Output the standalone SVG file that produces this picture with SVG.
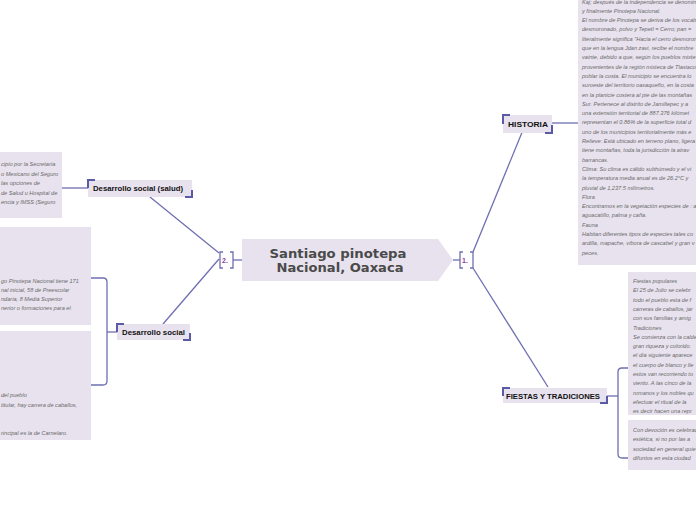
<svg xmlns="http://www.w3.org/2000/svg" width="696" height="520" viewBox="0 0 696 520">
<style>
.box{fill:#e8e2ee}
.node{fill:#e8e2ee}
.br{fill:none;stroke:#5b5aa6;stroke-width:2}
.con{fill:none;stroke:#6f6fb3;stroke-width:1.3}
.lbl{font-family:"Liberation Sans",Arial,sans-serif;font-weight:bold;font-size:8px;fill:#111}
.cap{font-family:"Liberation Sans",Arial,sans-serif;font-weight:bold;font-size:8px;fill:#111}
.t{font-family:"Liberation Sans",Arial,sans-serif;font-style:italic;font-size:5.6px;fill:#6a6a6a}
.num{font-family:"Liberation Sans",Arial,sans-serif;font-weight:bold;font-size:7px;fill:#8a3f9a}
.main{font-family:"DejaVu Sans",Verdana,sans-serif;font-weight:bold;font-size:13px;fill:#4a4a4a}
</style>
<rect width="696" height="520" fill="#ffffff"/>

<g id="connectors">
  <path class="con" d="M233 260 H242"/>
  <path class="con" d="M453 260 H460"/>
  <path class="con" d="M219 253 L150 197"/>
  <path class="con" d="M219 259 L163 324"/>
  <path class="con" d="M473 252 L523 130"/>
  <path class="con" d="M473 268 L548 387"/>
  <path class="con" d="M88 188 H62"/>
  <path class="con" d="M117 332 H107"/>
  <path class="con" d="M91 278 H103 Q107 278 107 282 V381 Q107 385 103 385 H91"/>
  <path class="con" d="M552 123 H578"/>
  <path class="con" d="M607 396 H618"/>
  <path class="con" d="M628 368 H622 Q618 368 618 372 V454 Q618 458 622 458 H628"/>
</g>

<g id="center">
  <polygon class="node" points="242,239 438,239 453,260 438,281 242,281"/>
  <text class="main" x="338" y="258" text-anchor="middle" textLength="137" lengthAdjust="spacingAndGlyphs">Santiago pinotepa</text>
  <text class="main" x="340" y="272" text-anchor="middle" textLength="127" lengthAdjust="spacingAndGlyphs">Nacional, Oaxaca</text>
</g>

<g id="num2">
  <path class="con" d="M223 252 H220 V268 H223 M230 252 H233 V268 H230" stroke-width="1"/>
  <text class="num" x="222" y="263">2.</text>
</g>
<g id="num1">
  <path class="con" d="M463 252 H460 V268 H463 M470 252 H473 V268 H470" stroke-width="1"/>
  <text class="num" x="462" y="263">1.</text>
</g>

<g id="node-salud">
  <rect class="node" x="88" y="180" width="104" height="17"/>
  <path class="br" d="M88 188 V180 H95 M192 190 V197 H185"/>
  <text class="lbl" x="93" y="191" textLength="90" lengthAdjust="spacingAndGlyphs">Desarrollo social (salud)</text>
</g>

<g id="node-social">
  <rect class="node" x="117" y="324" width="73" height="16"/>
  <path class="br" d="M117 332 V324 H124 M190 333 V340 H183"/>
  <text class="lbl" x="122" y="335" textLength="63" lengthAdjust="spacingAndGlyphs">Desarrollo social</text>
</g>

<g id="node-historia">
  <rect class="node" x="503" y="115" width="49" height="18"/>
  <path class="br" d="M503 124 V115 H510 M552 125 V133 H545"/>
  <text class="cap" x="508" y="127" textLength="40" lengthAdjust="spacingAndGlyphs">HISTORIA</text>
</g>

<g id="node-fiestas">
  <rect class="node" x="503" y="388" width="104" height="15"/>
  <path class="br" d="M503 396 V388 H510 M607 396 V403 H600"/>
  <text class="cap" x="506" y="399" textLength="94" lengthAdjust="spacingAndGlyphs">FIESTAS Y TRADICIONES</text>
</g>

<g id="text-salud">
  <rect class="box" x="0" y="152" width="62" height="66"/>
  <text class="t" x="1" y="166">cipio por la Secretaría</text>
  <text class="t" x="1" y="175.5">o Mexicano del Seguro</text>
  <text class="t" x="1" y="185">las opciones de</text>
  <text class="t" x="1" y="194.5">de Salud u Hospital de</text>
  <text class="t" x="1" y="204">encia y IMSS (Seguro</text>
</g>

<g id="text-social-1">
  <rect class="box" x="0" y="227" width="91" height="98"/>
  <text class="t" x="1" y="283">go Pinotepa Nacional tiene 171</text>
  <text class="t" x="1" y="292">nal inicial, 58 de Preescolar</text>
  <text class="t" x="1" y="301">ndaria, 8 Media Superior</text>
  <text class="t" x="1" y="310">nerior o formaciones para el</text>
</g>

<g id="text-social-2">
  <rect class="box" x="0" y="331" width="91" height="109"/>
  <text class="t" x="1" y="397">del pueblo</text>
  <text class="t" x="1" y="407">titular, hay carrera de caballos,</text>
  <text class="t" x="1" y="435">rincipal es la de Carnelaro.</text>
</g>

<g id="text-historia">
  <rect class="box" x="578" y="0" width="118" height="265"/>
  <text class="t" x="582" y="3.5">Kaj; después de la independencia se denomin</text>
  <text class="t" x="582" y="12.8">y finalmente Pinotepa Nacional.</text>
  <text class="t" x="582" y="22.1">El nombre de Pinotepa se deriva de los vocabl</text>
  <text class="t" x="582" y="31.4">desmoronado, polvo y Tepetl = Cerro; pan =</text>
  <text class="t" x="582" y="40.7">literalmente significa "Hacia el cerro desmoron</text>
  <text class="t" x="582" y="50">que en la lengua Jdan zavi, recibe el nombre</text>
  <text class="t" x="582" y="59.3">vainte, debido a que, según los pueblos mixte</text>
  <text class="t" x="582" y="68.6">provenientes de la región mixteca de Tlaxiaco</text>
  <text class="t" x="582" y="77.9">poblar la costa. El municipio se encuentra lo</text>
  <text class="t" x="582" y="87.2">suroeste del territorio oaxaqueño, en la costa</text>
  <text class="t" x="582" y="96.5">en la planicie costera al pie de las montañas</text>
  <text class="t" x="582" y="105.8">Sur. Pertenece al distrito de Jamiltepec y a</text>
  <text class="t" x="582" y="115.1">una extensión territorial de 887.376 kilómet</text>
  <text class="t" x="582" y="124.4">representan el 0.86% de la superficie total d</text>
  <text class="t" x="582" y="133.7">uno de los municipios territorialmente más e</text>
  <text class="t" x="582" y="143">Relieve: Está ubicado en terreno plano, ligera</text>
  <text class="t" x="582" y="152.3">tiene montañas, toda la jurisdicción la atrav</text>
  <text class="t" x="582" y="161.6">barrancas.</text>
  <text class="t" x="582" y="170.9">Clima: Su clima es cálido subhúmedo y el vi</text>
  <text class="t" x="582" y="180.2">la temperatura media anual es de 26.2°C y</text>
  <text class="t" x="582" y="189.5">pluvial de 1,237.5 milímetros.</text>
  <text class="t" x="582" y="198.8">Flora</text>
  <text class="t" x="582" y="208.1">Encontramos en la vegetación especies de : a</text>
  <text class="t" x="582" y="217.4">aguacatillo, palma y caña.</text>
  <text class="t" x="582" y="226.7">Fauna</text>
  <text class="t" x="582" y="236">Habitan diferentes tipos de especies tales co</text>
  <text class="t" x="582" y="245.3">ardilla, mapache, víbora de cascabel y gran v</text>
  <text class="t" x="582" y="254.6">peces.</text>
</g>

<g id="text-fiestas-1">
  <rect class="box" x="628" y="272" width="68" height="143"/>
  <text class="t" x="633" y="283">Fiestas populares</text>
  <text class="t" x="633" y="292.3">El 25 de Julio se celebr</text>
  <text class="t" x="633" y="301.6">todo el pueblo esta de f</text>
  <text class="t" x="633" y="310.9">carreras de caballos, jar</text>
  <text class="t" x="633" y="320.2">con sus familias y amig</text>
  <text class="t" x="633" y="329.5">Tradiciones</text>
  <text class="t" x="633" y="338.8">Se comienza con la calde</text>
  <text class="t" x="633" y="348.1">gran riqueza y colorido.</text>
  <text class="t" x="633" y="357.4">el día siguiente aparece</text>
  <text class="t" x="633" y="366.7">el cuerpo de blanco y lle</text>
  <text class="t" x="633" y="376">estos van recorriendo to</text>
  <text class="t" x="633" y="385.3">viento. A las cinco de la</text>
  <text class="t" x="633" y="394.6">romanos y los nobles qu</text>
  <text class="t" x="633" y="403.9">efectuar el ritual de la</text>
  <text class="t" x="633" y="413.2">es decir hacen una repr</text>
</g>

<g id="text-fiestas-2">
  <rect class="box" x="628" y="420" width="68" height="50"/>
  <text class="t" x="633" y="432">Con devoción es celebrad</text>
  <text class="t" x="633" y="441.3">estética, si no por las a</text>
  <text class="t" x="633" y="450.6">sociedad en general quie</text>
  <text class="t" x="633" y="459.9">difuntos en esta ciudad</text>
</g>
</svg>
